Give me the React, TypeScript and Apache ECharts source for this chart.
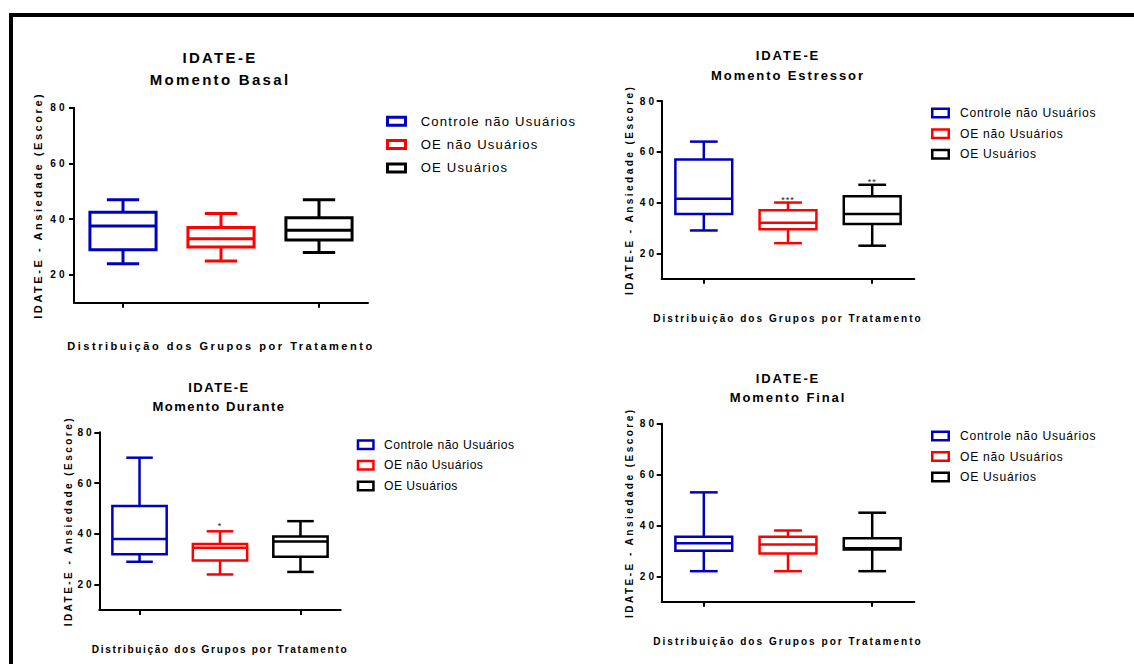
import React, { useEffect, useRef } from "react";
import * as echarts from "echarts";

// ---------- data ----------
const groups = ["Controle não Usuários", "OE não Usuários", "OE Usuários"];
const yTicks = [20, 40, 60, 80];
const yMin = 10;
const yMax = 80;
const mainTitle = "IDATE-E";
const moments = ["Momento Basal", "Momento Estressor", "Momento Durante", "Momento Final"];
const yName = "IDATE-E - Ansiedade (Escore)";
const xName = "Distribuição dos Grupos por Tratamento";

// each row: [min, Q1, median, Q3, max] for the three groups
const basal = [
  [24, 29, 37.5, 42.5, 47],
  [25, 30, 33, 37, 42],
  [28, 32.5, 36, 40.5, 47],
];
const estressor = [
  [29, 35.5, 41.5, 57, 64],
  [24, 29.5, 32, 37, 40],
  [23, 31.5, 35.5, 42.5, 47],
];
const durante = [
  [29, 32, 38, 51, 70],
  [24, 29.5, 34.5, 36, 41],
  [25, 31, 37, 39, 45],
];
const final = [
  [22, 30, 33, 35.5, 53],
  [22, 29, 32.5, 35.5, 38],
  [22, 30.5, 31, 35, 45],
];
const basalSig = ["", "", ""];
const estressorSig = ["", "***", "**"];
const duranteSig = ["", "*", ""];
const finalSig = ["", "", ""];

// ---------- style ----------
const groupColors = ["#0000C0", "#FF0000", "#000000"];
const FONT = "'Liberation Sans', Arial, Helvetica, sans-serif";
const TICK_FONT = 10.09;
const TICK_SPACING = 3;

// unique font sizes -> letter spacing (applied on svg text)
const spacing: [number, number][] = [
  [15.01, 2.3],
  [13.02, 1.9],
  [13.03, 1.5],
  [11.04, 2.55],
  [10.05, 2.45],
  [11.06, 2.5],
  [10.07, 2.0],
  [10.08, 1.65],
  [TICK_FONT, TICK_SPACING],
  [13.11, 1.2],
  [12.12, 0.75],
  [12.13, 0.47],
  [9.14, 1.0],
];
const css = spacing.map(([s, l]) => `text[style*="${s}px"]{letter-spacing:${l}px}`).join("\n");

const panels = [
  {
    stats: basal, sig: basalSig, moment: moments[0],
    grid: { left: 74, top: 107.7, width: 294, height: 195 },
    titleX: 220, titleTop: 46.8, titleLH: 22, titleFont: 15.01,
    yNameGap: 31, yNameFont: 11.04, xNameGap: 38, xNameFont: 11.06,
    labelMargin: 6.5, lw: 3, sigOffset: -3,
    legend: { left: 386, top: 114.8, itemWidth: 18, itemHeight: 8, gap: 10.3, font: 13.11, pad: 10.2 },
  },
  {
    stats: estressor, sig: estressorSig, moment: moments[1],
    grid: { left: 661.7, top: 101, width: 252.6, height: 177.7 },
    titleX: 788, titleTop: 45.3, titleLH: 20, titleFont: 13.02,
    yNameGap: 27.2, yNameFont: 10.05, xNameGap: 34.6, xNameFont: 10.07,
    labelMargin: 4.7, lw: 2.5, sigOffset: -2.5,
    legend: { left: 931, top: 107, itemWidth: 16.5, itemHeight: 8.5, gap: 8.65, font: 12.12, pad: 6.25 },
  },
  {
    stats: durante, sig: duranteSig, moment: moments[2],
    grid: { left: 99.3, top: 432.3, width: 241.4, height: 177.7 },
    titleX: 219, titleTop: 377.2, titleLH: 19.7, titleFont: 13.03,
    yNameGap: 26, yNameFont: 10.05, xNameGap: 34.3, xNameFont: 10.08,
    labelMargin: 4.7, lw: 2.5, sigOffset: -5,
    legend: { left: 356.7, top: 438.7, itemWidth: 15.5, itemHeight: 8.5, gap: 8.65, font: 12.13, pad: 5.55 },
  },
  {
    stats: final, sig: finalSig, moment: moments[3],
    grid: { left: 661.7, top: 423.7, width: 252.6, height: 178 },
    titleX: 788, titleTop: 369.2, titleLH: 19, titleFont: 13.02,
    yNameGap: 27.2, yNameFont: 10.05, xNameGap: 34.3, xNameFont: 10.07,
    labelMargin: 4.7, lw: 2.5, sigOffset: -2.5,
    legend: { left: 931, top: 430, itemWidth: 16.5, itemHeight: 8.5, gap: 8.5, font: 12.12, pad: 6.25 },
  },
];

const makeRender = (color: string, lw: number, sig: string, sigOffset: number) =>
  (params: any, api: any) => {
    const xi = api.value(0);
    const lo = api.coord([xi, api.value(1)]);
    const q1 = api.coord([xi, api.value(2)]);
    const md = api.coord([xi, api.value(3)]);
    const q3 = api.coord([xi, api.value(4)]);
    const hi = api.coord([xi, api.value(5)]);
    const band = api.size([1, 0])[0];
    const bw = band * 0.675;
    const cw = band * 0.33;
    const cx = md[0];
    const st = { stroke: color, lineWidth: lw, fill: "none", lineJoin: "miter" };
    const children: any[] = [
      { type: "line", shape: { x1: cx, y1: q3[1], x2: cx, y2: hi[1] }, style: st },
      { type: "line", shape: { x1: cx, y1: q1[1], x2: cx, y2: lo[1] }, style: st },
      { type: "line", shape: { x1: cx - cw / 2, y1: hi[1], x2: cx + cw / 2, y2: hi[1] }, style: st },
      { type: "line", shape: { x1: cx - cw / 2, y1: lo[1], x2: cx + cw / 2, y2: lo[1] }, style: st },
      { type: "rect", shape: { x: cx - bw / 2, y: q3[1], width: bw, height: q1[1] - q3[1] }, style: { ...st, fill: "#fff" } },
      { type: "line", shape: { x1: cx - bw / 2, y1: md[1], x2: cx + bw / 2, y2: md[1] }, style: st },
    ];
    if (sig) {
      children.push({
        type: "text",
        style: {
          text: sig, x: cx, y: hi[1] + sigOffset, align: "center", verticalAlign: "middle",
          fontSize: 9.14, fontFamily: FONT, fill: "#222",
        },
      });
    }
    return { type: "group", children };
  };

export default function App() {
  const ref = useRef<HTMLDivElement>(null);

  useEffect(() => {
    if (!ref.current) return;
    const chart = echarts.init(ref.current, undefined, { renderer: "svg" });

    const series: any[] = [];
    panels.forEach((p, pi) => {
      groups.forEach((g, gi) => {
        series.push({
          type: "custom",
          name: g,
          xAxisIndex: pi,
          yAxisIndex: pi,
          itemStyle: { color: groupColors[gi] },
          encode: { x: 0, y: [1, 2, 3, 4, 5] },
          data: [[gi, ...p.stats[gi]]],
          renderItem: makeRender(groupColors[gi], p.lw, p.sig[gi], p.sigOffset),
          silent: true,
        });
      });
    });

    chart.setOption({
      animation: false,
      backgroundColor: "#fff",
      title: panels.map((p) => ({
        text: mainTitle + "\n" + p.moment,
        left: p.titleX,
        top: p.titleTop,
        padding: 0,
        textAlign: "center",
        textVerticalAlign: "top",
        textStyle: {
          fontSize: p.titleFont, fontWeight: "bold", fontFamily: FONT,
          color: "#000", lineHeight: p.titleLH,
        },
      })),
      legend: panels.map((p) => ({
        data: groups.map((g, gi) => ({
          name: g,
          icon: "rect",
          itemStyle: { color: "#fff", borderColor: groupColors[gi], borderWidth: p.lw },
        })),
        orient: "vertical",
        left: p.legend.left,
        top: p.legend.top,
        itemWidth: p.legend.itemWidth,
        itemHeight: p.legend.itemHeight,
        itemGap: p.legend.gap,
        padding: 0,
        selectedMode: false,
        textStyle: {
          fontSize: p.legend.font, fontFamily: FONT, color: "#000",
          padding: [0, 0, 0, p.legend.pad],
        },
      })),
      grid: panels.map((p) => ({ ...p.grid, outerBoundsMode: "none", containLabel: false })),
      xAxis: panels.map((p, pi) => ({
        gridIndex: pi,
        type: "category",
        data: groups,
        name: xName,
        nameLocation: "middle",
        nameGap: p.xNameGap,
        nameMoveOverlap: false,
        nameTextStyle: { fontSize: p.xNameFont, fontWeight: "bold", fontFamily: FONT, color: "#000" },
        axisLine: { show: true, lineStyle: { color: "#000", width: 2 } },
        axisTick: { show: true, alignWithLabel: true, length: 5, lineStyle: { color: "#000", width: 2 } },
        axisLabel: { show: false },
        splitLine: { show: false },
      })),
      yAxis: panels.map((p, pi) => ({
        gridIndex: pi,
        type: "value",
        min: yMin,
        max: yMax,
        name: yName,
        nameLocation: "middle",
        nameRotate: 90,
        nameGap: p.yNameGap,
        nameMoveOverlap: false,
        nameTextStyle: { fontSize: p.yNameFont, fontWeight: "bold", fontFamily: FONT, color: "#000" },
        axisLine: { show: true, lineStyle: { color: "#000", width: 2 } },
        axisTick: { show: true, length: 5, customValues: yTicks, lineStyle: { color: "#000", width: 2 } },
        axisLabel: {
          customValues: yTicks, margin: p.labelMargin, fontSize: TICK_FONT,
          fontWeight: "bold", fontFamily: FONT, color: "#000",
        },
        splitLine: { show: false },
      })),
      graphic: [
        { type: "rect", shape: { x: 9, y: 13, width: 1125, height: 4 }, style: { fill: "#000" }, silent: true },
        { type: "rect", shape: { x: 9, y: 13, width: 4, height: 651 }, style: { fill: "#000" }, silent: true },
      ],
      series,
    });

    // make sure letter spacing reaches every text (by font size, tick labels by content)
    const tickStrings = yTicks.map(String);
    ref.current.querySelectorAll("text").forEach((t) => {
      const st = t.getAttribute("style") || "";
      let ls: number | null = null;
      for (const [s, l] of spacing) if (st.includes(s + "px")) ls = l;
      if (ls == null && tickStrings.includes((t.textContent || "").trim())) ls = TICK_SPACING;
      if (ls != null) t.setAttribute("letter-spacing", String(ls));
    });

    return () => chart.dispose();
  }, []);

  return (
    <>
      <style>{css}</style>
      <div
        ref={ref}
        style={{ position: "fixed", left: 0, top: 0, width: 1134, height: 664, background: "#fff" }}
      />
    </>
  );
}
